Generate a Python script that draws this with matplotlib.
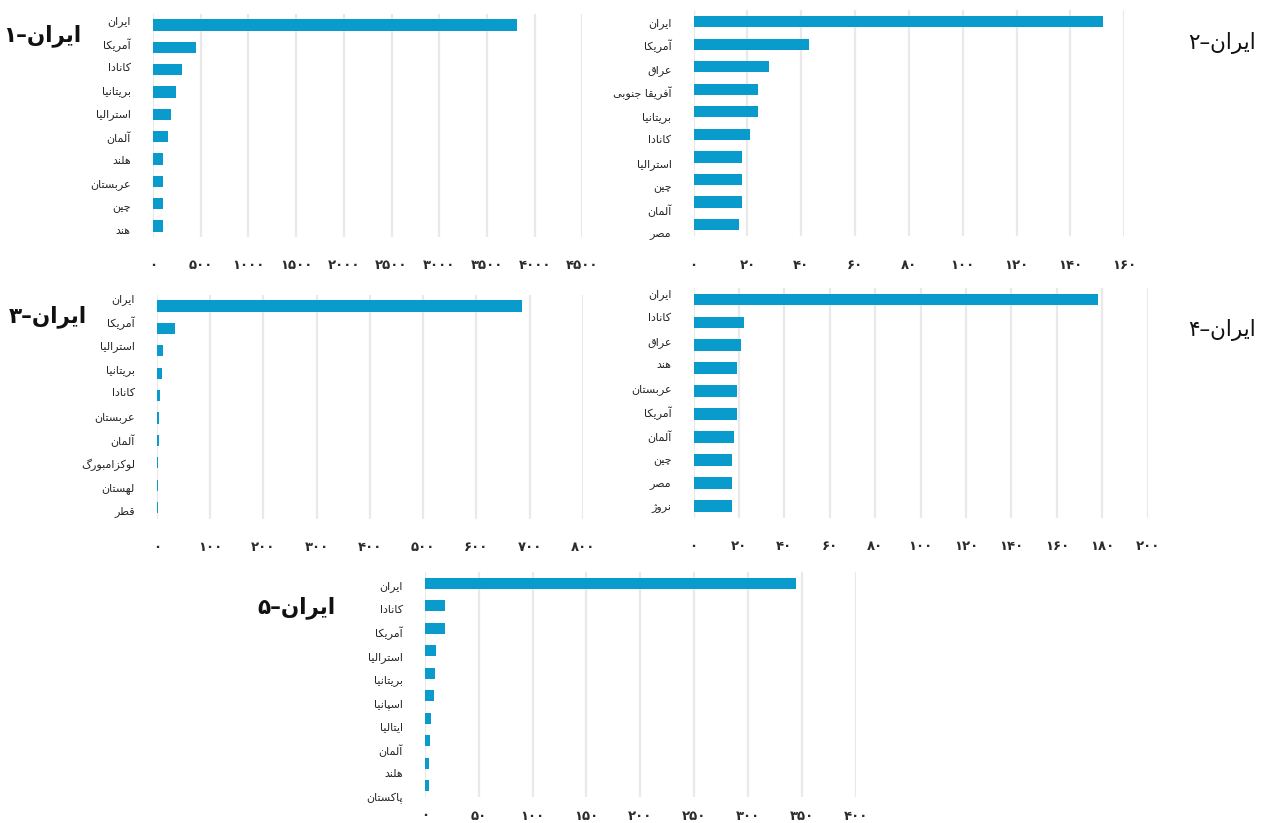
import matplotlib
matplotlib.use("Agg")
import matplotlib.pyplot as plt

# ---------------- data ----------------
countries_1 = ['ایران', 'آمریکا', 'کانادا', 'بریتانیا', 'استرالیا', 'آلمان', 'هلند', 'عربستان', 'چین', 'هند']
values_1 = [3820, 450, 300, 245, 190, 160, 110, 100, 100, 100]
ticks_1 = [0, 500, 1000, 1500, 2000, 2500, 3000, 3500, 4000, 4500]

countries_2 = ['ایران', 'آمریکا', 'عراق', 'آفریقا جنوبی', 'بریتانیا', 'کانادا', 'استرالیا', 'چین', 'آلمان', 'مصر']
values_2 = [152, 43, 28, 24, 24, 21, 18, 18, 18, 17]
ticks_2 = [0, 20, 40, 60, 80, 100, 120, 140, 160]

countries_3 = ['ایران', 'آمریکا', 'استرالیا', 'بریتانیا', 'کانادا', 'عربستان', 'آلمان', 'لوکزامبورگ', 'لهستان', 'قطر']
values_3 = [686, 33, 11, 10, 6, 4, 3, 2, 2, 2]
ticks_3 = [0, 100, 200, 300, 400, 500, 600, 700, 800]

countries_4 = ['ایران', 'کانادا', 'عراق', 'هند', 'عربستان', 'آمریکا', 'آلمان', 'چین', 'مصر', 'نروژ']
values_4 = [178, 22, 21, 19, 19, 19, 18, 17, 17, 17]
ticks_4 = [0, 20, 40, 60, 80, 100, 120, 140, 160, 180, 200]

countries_5 = ['ایران', 'کانادا', 'آمریکا', 'استرالیا', 'بریتانیا', 'اسپانیا', 'ایتالیا', 'آلمان', 'هلند', 'پاکستان']
values_5 = [345, 19, 19, 10, 9.5, 8, 5.5, 4.5, 3.5, 3.5]
ticks_5 = [0, 50, 100, 150, 200, 250, 300, 350, 400]

titles = ['ایران–۱', 'ایران–۲', 'ایران–۳', 'ایران–۴', 'ایران–۵']

# ---------------- Persian text shaping (matplotlib has no complex text layout) ----------------
FORMS = {
    'ا': ('\uFE8D', '\uFE8E', None, None),
    'آ': ('\uFE81', '\uFE82', None, None),
    'ب': ('\uFE8F', '\uFE90', '\uFE91', '\uFE92'),
    'پ': ('\uFB56', '\uFB57', '\uFB58', '\uFB59'),
    'ت': ('\uFE95', '\uFE96', '\uFE97', '\uFE98'),
    'ج': ('\uFE9D', '\uFE9E', '\uFE9F', '\uFEA0'),
    'چ': ('\uFB7A', '\uFB7B', '\uFB7C', '\uFB7D'),
    'د': ('\uFEA9', '\uFEAA', None, None),
    'ر': ('\uFEAD', '\uFEAE', None, None),
    'ز': ('\uFEAF', '\uFEB0', None, None),
    'ژ': ('\uFB8A', '\uFB8B', None, None),
    'س': ('\uFEB1', '\uFEB2', '\uFEB3', '\uFEB4'),
    'ص': ('\uFEB9', '\uFEBA', '\uFEBB', '\uFEBC'),
    'ط': ('\uFEC1', '\uFEC2', '\uFEC3', '\uFEC4'),
    'ع': ('\uFEC9', '\uFECA', '\uFECB', '\uFECC'),
    'ف': ('\uFED1', '\uFED2', '\uFED3', '\uFED4'),
    'ق': ('\uFED5', '\uFED6', '\uFED7', '\uFED8'),
    'ک': ('\uFB8E', '\uFB8F', '\uFB90', '\uFB91'),
    'گ': ('\uFB92', '\uFB93', '\uFB94', '\uFB95'),
    'ل': ('\uFEDD', '\uFEDE', '\uFEDF', '\uFEE0'),
    'م': ('\uFEE1', '\uFEE2', '\uFEE3', '\uFEE4'),
    'ن': ('\uFEE5', '\uFEE6', '\uFEE7', '\uFEE8'),
    'ه': ('\uFEE9', '\uFEEA', '\uFEEB', '\uFEEC'),
    'و': ('\uFEED', '\uFEEE', None, None),
    'ی': ('\uFBFC', '\uFBFD', '\uFBFE', '\uFBFF'),
}
LAMALEF = {'ا': ('\uFEFB', '\uFEFC'), 'آ': ('\uFEF5', '\uFEF6')}
PDIGITS = set('۰۱۲۳۴۵۶۷۸۹0123456789')


def shape(s):
    out = []
    n = len(s)
    i = 0
    while i < n:
        c = s[i]
        if c not in FORMS:
            out.append(c)
            i += 1
            continue
        prev = s[i - 1] if i > 0 else None
        jp = prev is not None and prev in FORMS and FORMS[prev][2] is not None
        if c == 'ل' and i + 1 < n and s[i + 1] in LAMALEF:
            out.append(LAMALEF[s[i + 1]][1 if jp else 0])
            i += 2
            continue
        nxt = s[i + 1] if i + 1 < n else None
        jn = FORMS[c][2] is not None and nxt is not None and nxt in FORMS
        iso, fin, ini, med = FORMS[c]
        out.append(med if (jp and jn) else fin if jp else ini if jn else iso)
        i += 1
    return out


def fa(s):
    g = shape(s)
    runs = []
    for ch in g:
        d = ch in PDIGITS
        if runs and runs[-1][0] == d:
            runs[-1][1].append(ch)
        else:
            runs.append([d, [ch]])
    res = ''
    for d, chs in reversed(runs):
        res += ''.join(chs) if d else ''.join(reversed(chs))
    return res


def fa_num(v):
    return str(v).translate(str.maketrans('0123456789', '۰۱۲۳۴۵۶۷۸۹'))


# ---------------- figure ----------------
W, H = 1267, 823
fig = plt.figure(figsize=(W / 100, H / 100), dpi=100)
plt.rcParams['font.family'] = ['DejaVu Sans']

BAR = '#0A9BCD'
GRID = '#e9e9e9'

# layout in pixels: (x0, x1, ytop, ybottom), label (offset, stretch), x-tick pad, title (x, y, weight)
panels = [
    (countries_1, values_1, ticks_1, (153, 582.3, 13.8, 237.2), (-0.22, 1.044), 16, (42, 36, 'bold')),
    (countries_2, values_2, ticks_2, (693.6, 1124.3, 10.4, 235.8), (0.0, 1.042), 17, (1222, 43, 'normal')),
    (countries_3, values_3, ticks_3, (157, 582.8, 294.8, 518.9), (-0.36, 1.053), 16, (48, 317, 'bold')),
    (countries_4, values_4, ticks_4, (693.6, 1147.7, 287.8, 517.5), (-0.27, 1.034), 16, (1222, 330, 'normal')),
    (countries_5, values_5, ticks_5, (425, 855.5, 572, 797), (0.08, 1.047), 9, (296, 608, 'bold')),
]

for k, (cats, vals, ticks, (x0, x1, yt, yb), (loff, lst), xpad, (tx, ty, tw)) in enumerate(panels):
    ax = fig.add_axes([x0 / W, 1 - yb / H, (x1 - x0) / W, (yb - yt) / H])
    pos = list(range(len(cats)))
    ax.barh(pos, vals, height=0.5, color=BAR, zorder=3)
    ax.set_xlim(ticks[0], ticks[-1])
    ax.set_ylim(len(cats) - 0.5, -0.5)
    ax.set_xticks(ticks)
    ax.set_xticklabels([fa_num(t) for t in ticks], fontsize=9.5, fontweight='bold', color='#2b2b2b')
    ax.set_yticks([loff + i * lst for i in pos])
    ax.set_yticklabels([fa(c) for c in cats], fontsize=8, color='#262626')
    ax.tick_params(axis='x', length=0, pad=xpad)
    ax.tick_params(axis='y', length=0, pad=16)
    ax.grid(axis='x', color=GRID, linewidth=1.6, zorder=0)
    ax.grid(axis='y', visible=False)
    for sp in ax.spines.values():
        sp.set_visible(False)
    fig.text(tx / W, 1 - ty / H, fa(titles[k]), fontsize=15.5, fontweight=tw,
             ha='center', va='center', color='#111111')

fig.savefig('out.png', dpi=100)
